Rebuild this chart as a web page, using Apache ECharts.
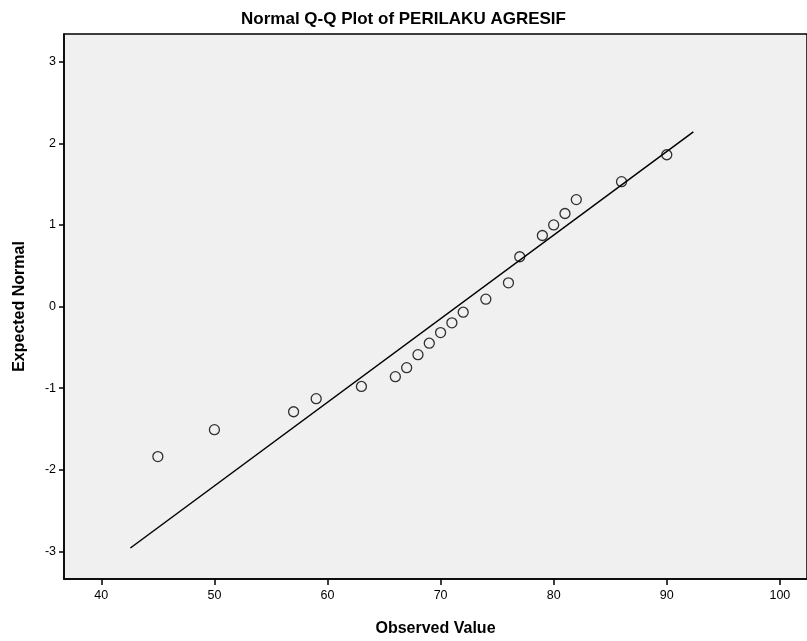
<!DOCTYPE html>
<html>
<head>
<meta charset="utf-8">
<script src="https://cdn.jsdelivr.net/npm/echarts@6/dist/echarts.min.js"></script>
<style>
  html, body { margin: 0; padding: 0; background: #fff; }
  #chart { width: 807px; height: 641px; }
</style>
</head>
<body>
<div id="chart"></div>
<script>
// observed values and their expected normal scores
var observed = [45, 50, 57, 59, 63, 66, 67, 68, 69, 70, 71, 72, 74, 76, 77, 79, 80, 81, 82, 86, 90];
var expected = [-1.84, -1.51, -1.29, -1.13, -0.98, -0.86, -0.75, -0.59, -0.45, -0.32, -0.20, -0.07, 0.09, 0.29, 0.61, 0.87, 1.00, 1.14, 1.31, 1.53, 1.86];
// reference line end points
var lineX = [42.57, 92.35];
var lineY = [-2.96, 2.14];
var xTicks = [40, 50, 60, 70, 80, 90, 100];
var yTicks = [-3, -2, -1, 0, 1, 2, 3];

var chart = echarts.init(document.getElementById('chart'));
var font = 'Liberation Sans, Arial, sans-serif';

var option = {
  backgroundColor: '#ffffff',
  animation: false,
  title: {
    text: 'Normal Q-Q Plot of PERILAKU AGRESIF',
    left: 'center',
    top: 6,
    textStyle: { fontFamily: font, fontSize: 17, fontWeight: 'bold', color: '#000' }
  },
  grid: {
    left: 64, right: 0, top: 34, bottom: 62,
    containLabel: false,
    outerBoundsMode: 'none',
    show: true,
    backgroundColor: '#f0f0f0',
    borderColor: '#000',
    borderWidth: 1.5
  },
  xAxis: {
    type: 'value',
    min: 36.7, max: 102.4,
    name: 'Observed Value',
    nameLocation: 'middle',
    nameGap: 42,
    nameTextStyle: { fontFamily: font, fontSize: 16, fontWeight: 'bold', color: '#000' },
    splitLine: { show: false },
    axisLine: { show: true, onZero: false, lineStyle: { color: '#000', width: 1.5 } },
    axisTick: { show: true, length: 6, customValues: xTicks, lineStyle: { color: '#000', width: 1.5 } },
    axisLabel: { customValues: xTicks, margin: 10, fontFamily: font, fontSize: 12.5, color: '#000' }
  },
  yAxis: {
    type: 'value',
    min: -3.34, max: 3.34,
    name: 'Expected Normal',
    nameLocation: 'middle',
    nameGap: 36,
    nameTextStyle: { fontFamily: font, fontSize: 16, fontWeight: 'bold', color: '#000' },
    splitLine: { show: false },
    axisLine: { show: true, onZero: false, lineStyle: { color: '#000', width: 1.5 } },
    axisTick: { show: true, length: 5, customValues: yTicks, lineStyle: { color: '#000', width: 1.5 } },
    axisLabel: { customValues: yTicks, margin: 8, fontFamily: font, fontSize: 12.5, color: '#000' }
  },
  series: [
    {
      type: 'line',
      data: lineX.map(function (x, i) { return [x, lineY[i]]; }),
      symbol: 'none',
      lineStyle: { color: '#000', width: 1.5 },
      z: 2
    },
    {
      type: 'scatter',
      data: observed.map(function (x, i) { return [x, expected[i]]; }),
      symbol: 'circle',
      symbolSize: 10,
      itemStyle: { color: 'rgba(0,0,0,0)', borderColor: '#000', borderWidth: 1.3 },
      z: 3
    }
  ]
};

chart.setOption(option);
</script>
</body>
</html>
